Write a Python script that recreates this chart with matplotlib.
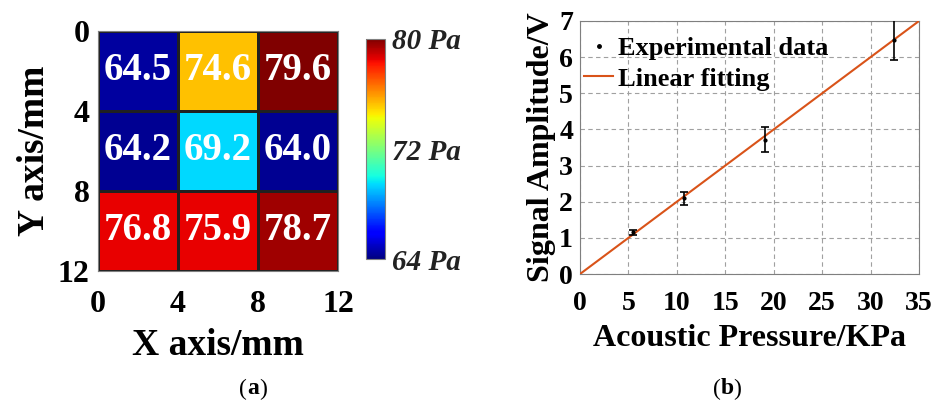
import numpy as np
import matplotlib
matplotlib.use("Agg")
import matplotlib.pyplot as plt
from matplotlib.lines import Line2D

plt.rcParams['font.family'] = ['Liberation Serif', 'DejaVu Serif']
plt.rcParams['font.weight'] = 'bold'

# ---- data ----
grid_edges = [0, 4, 8, 12]
pressure_grid = [[64.5, 74.6, 79.6],
                 [64.2, 69.2, 64.0],
                 [76.8, 75.9, 78.7]]
# colour level of each cell as it appears on the colour scale in the picture
cell_color_level = [[64.45, 75.3, 80.0],
                    [64.3, 69.4, 64.3],
                    [78.5, 78.5, 79.5]]
cbar_ticks = [64, 72, 80]
cbar_labels = ['64 Pa', '72 Pa', '80 Pa']

exp_x = [5.5, 10.7, 19.05, 32.45]
exp_y = [1.15, 2.1, 3.72, 6.48]
exp_err = [0.08, 0.18, 0.35, 0.55]
fit_x = [0, 35]
fit_y = [0, 7]

W, H = 939, 403
fig = plt.figure(figsize=(W/100, H/100), dpi=100)

def ax_px(l, t, r, b):
    return fig.add_axes([l/W, 1 - b/H, (r-l)/W, (b-t)/H])

gray = '#7f7f7f'

# ---- panel (a) ----
ax1 = ax_px(98, 31, 338, 271)
mesh = ax1.pcolormesh(grid_edges, grid_edges, np.array(cell_color_level), cmap='jet',
                      vmin=64, vmax=80, edgecolors='#202020', linewidth=0.8)
ax1.set_xlim(0, 12)
ax1.set_ylim(12, 0)
ax1.set_xticks(grid_edges)
ax1.set_yticks(grid_edges)
ax1.tick_params(length=0, labelsize=23)
ax1.tick_params(axis='x', pad=14)
ax1.tick_params(axis='y', pad=6)
for s in ax1.spines.values():
    s.set_color(gray)
    s.set_linewidth(0.8)
for i in range(3):
    for j in range(3):
        ax1.text((grid_edges[j]+grid_edges[j+1])/2, (grid_edges[i]+grid_edges[i+1])/2,
                 f"{pressure_grid[i][j]:.1f}", color='white', fontsize=28,
                 fontweight='bold', ha='center', va='center')
ax1.set_xlabel('X axis/mm', fontsize=27, fontweight='bold', labelpad=6)
ax1.set_ylabel('Y axis/mm', fontsize=27, fontweight='bold', labelpad=4)

cax = ax_px(366, 39, 385, 259)
cb = fig.colorbar(mesh, cax=cax, ticks=cbar_ticks)
cb.set_ticklabels(cbar_labels)
cb.outline.set_edgecolor(gray)
cb.outline.set_linewidth(0.8)
cax.tick_params(length=0, pad=5)
for lab in cax.get_yticklabels():
    lab.set_fontsize(21)
    lab.set_fontstyle('italic')
    lab.set_fontweight('bold')
    lab.set_color('#222222')

# ---- panel (b) ----
ax2 = ax_px(580, 21, 919, 274)
ax2.plot(fit_x, fit_y, color='#D95319', linewidth=1.5, zorder=3)
ax2.errorbar(exp_x, exp_y, yerr=exp_err, fmt='.', color='black', markersize=4,
             ecolor='black', elinewidth=1.2, capsize=3, capthick=1.2, zorder=4)
ax2.set_xlim(0, 35)
ax2.set_ylim(0, 7)
ax2.set_xticks(range(0, 36, 5))
ax2.set_yticks(range(0, 8))
ax2.grid(True, linestyle=(0, (4, 3)), color='#a0a0a0', linewidth=0.8)
ax2.tick_params(length=0, labelsize=20)
ax2.tick_params(axis='x', pad=12)
ax2.tick_params(axis='y', pad=5)
for s in ax2.spines.values():
    s.set_color(gray)
    s.set_linewidth(0.8)
ax2.set_xlabel('Acoustic Pressure/KPa', fontsize=23, fontweight='bold', labelpad=6)
ax2.set_ylabel('Signal Amplitude/V', fontsize=23, fontweight='bold', labelpad=2)
handles = [Line2D([], [], linestyle='none', marker='.', color='black', markersize=5),
           Line2D([], [], color='#D95319', linewidth=1.5)]
leg = ax2.legend(handles, ['Experimental data', 'Linear fitting'], loc='upper left',
                 frameon=False, fontsize=19, handlelength=1.1, handletextpad=0.2,
                 borderaxespad=0, borderpad=0, labelspacing=0.25,
                 bbox_to_anchor=(4/339, 1 - 16/253))
for t in leg.get_texts():
    t.set_fontweight('bold')

# ---- sub labels ----
def sublabel(xc, yc, letter):
    fs = 17
    half = 0.25 * fs * 100 / 72 / W + 0.0005
    y = 1 - yc/H
    fig.text(xc/W - half, y, '(', fontsize=fs, fontweight='normal', ha='right', va='center')
    fig.text(xc/W, y, letter, fontsize=fs, fontweight='bold', ha='center', va='center')
    fig.text(xc/W + half, y, ')', fontsize=fs, fontweight='normal', ha='left', va='center')

sublabel(253, 389, 'a')
sublabel(727, 389, 'b')

fig.savefig('out.png', dpi=100)
